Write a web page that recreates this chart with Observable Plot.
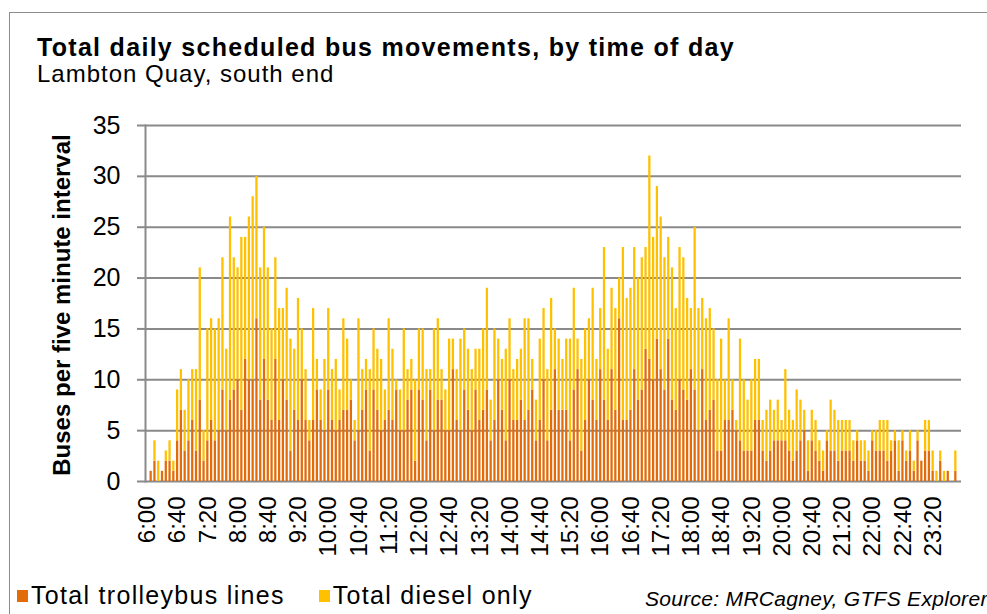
<!DOCTYPE html>
<html>
<head>
<meta charset="utf-8">
<script src="https://cdn.jsdelivr.net/npm/d3@7"></script>
<script src="https://cdn.jsdelivr.net/npm/@observablehq/plot@0.6"></script>
<style>
  html, body { margin: 0; padding: 0; background: #fff; }
  body { font-family: "Liberation Sans", Arial, sans-serif; color: #000; }
  #wrap { position: relative; width: 987px; height: 614px; overflow: hidden; background: #fff; }
  #frame { position: absolute; left: 9px; top: 12px; width: 1100px; height: 700px; border: 1.5px solid #8c8c8c; box-sizing: border-box; }
  #chart { position: absolute; left: 0; top: 0; }
  .title { position: absolute; left: 37px; top: 35px; font-size: 25px; line-height: 25px; font-weight: bold; letter-spacing: 1.3px; white-space: nowrap; }
  .subtitle { position: absolute; left: 37px; top: 62px; font-size: 24px; line-height: 24px; letter-spacing: 1px; white-space: nowrap; }
  .ytitle { position: absolute; left: 62px; top: 305px; font-size: 24px; line-height: 24px; font-weight: bold; white-space: nowrap; transform: translate(-50%, -50%) rotate(-90deg); }
  .legend { position: absolute; left: 17px; top: 583px; font-size: 25px; line-height: 25px; letter-spacing: 1.3px; white-space: nowrap; display: flex; align-items: center; }
  .legend .item { display: flex; align-items: center; margin-right: 34px; }
  .legend .sw { width: 11px; height: 12px; margin-right: 3px; display: inline-block; }
  .source { position: absolute; left: 645px; top: 588px; font-size: 21px; line-height: 21px; letter-spacing: 0.3px; font-style: italic; white-space: nowrap; }
</style>
</head>
<body>
<div id="wrap">
  <div id="frame"></div>
  <div id="chart"></div>
  <div class="title">Total daily scheduled bus movements, by time of day</div>
  <div class="subtitle">Lambton Quay, south end</div>
  <div class="ytitle">Buses per five minute interval</div>
  <div class="legend" id="legend"></div>
  <div class="source">Source: MRCagney, GTFS Explorer</div>
</div>
<script>
// Five-minute intervals, 6:00 to 23:55
const times = [
  "6:00","6:05","6:10","6:15","6:20","6:25","6:30","6:35","6:40","6:45","6:50","6:55",
  "7:00","7:05","7:10","7:15","7:20","7:25","7:30","7:35","7:40","7:45","7:50","7:55",
  "8:00","8:05","8:10","8:15","8:20","8:25","8:30","8:35","8:40","8:45","8:50","8:55",
  "9:00","9:05","9:10","9:15","9:20","9:25","9:30","9:35","9:40","9:45","9:50","9:55",
  "10:00","10:05","10:10","10:15","10:20","10:25","10:30","10:35","10:40","10:45","10:50","10:55",
  "11:00","11:05","11:10","11:15","11:20","11:25","11:30","11:35","11:40","11:45","11:50","11:55",
  "12:00","12:05","12:10","12:15","12:20","12:25","12:30","12:35","12:40","12:45","12:50","12:55",
  "13:00","13:05","13:10","13:15","13:20","13:25","13:30","13:35","13:40","13:45","13:50","13:55",
  "14:00","14:05","14:10","14:15","14:20","14:25","14:30","14:35","14:40","14:45","14:50","14:55",
  "15:00","15:05","15:10","15:15","15:20","15:25","15:30","15:35","15:40","15:45","15:50","15:55",
  "16:00","16:05","16:10","16:15","16:20","16:25","16:30","16:35","16:40","16:45","16:50","16:55",
  "17:00","17:05","17:10","17:15","17:20","17:25","17:30","17:35","17:40","17:45","17:50","17:55",
  "18:00","18:05","18:10","18:15","18:20","18:25","18:30","18:35","18:40","18:45","18:50","18:55",
  "19:00","19:05","19:10","19:15","19:20","19:25","19:30","19:35","19:40","19:45","19:50","19:55",
  "20:00","20:05","20:10","20:15","20:20","20:25","20:30","20:35","20:40","20:45","20:50","20:55",
  "21:00","21:05","21:10","21:15","21:20","21:25","21:30","21:35","21:40","21:45","21:50","21:55",
  "22:00","22:05","22:10","22:15","22:20","22:25","22:30","22:35","22:40","22:45","22:50","22:55",
  "23:00","23:05","23:10","23:15","23:20","23:25","23:30","23:35","23:40","23:45","23:50","23:55"
];

// Total trolleybus lines per interval (bottom segment)
const trolleybus = [
  0,1,2,0,1,2,2,1,4,7,3,4, 6,3,8,2,4,6,4,5,9,5,8,9,
  10,7,12,10,10,16,8,12,8,6,12,6, 10,8,3,7,6,10,6,4,6,9,6,5,
  9,6,5,6,7,7,8,4,5,7,9,3, 9,7,5,6,7,6,9,5,5,8,9,2,
  9,8,4,9,5,8,8,5,5,11,6,5, 9,7,5,9,6,7,9,4,6,10,7,4,
  10,6,6,8,6,7,9,4,6,10,4,7, 11,7,7,7,4,9,11,3,6,10,8,6,
  11,8,6,11,7,16,6,6,7,11,8,9, 13,12,10,14,11,9,14,8,7,10,9,8,
  11,9,5,11,6,7,8,3,3,6,6,7, 5,4,3,3,3,6,6,3,2,3,4,4,
  4,4,3,2,3,4,5,1,4,3,2,1, 4,3,3,2,3,3,3,2,4,2,2,1,
  4,3,3,3,2,3,4,1,4,2,3,1, 4,2,3,3,1,0,2,0,1,0,1,0
];

// Total diesel only per interval (top segment)
const diesel = [
  0,0,2,2,0,1,2,1,5,4,4,6, 5,8,13,3,11,10,11,11,13,8,18,13,
  11,17,12,16,18,14,13,13,13,9,10,11, 7,11,11,6,12,5,5,2,11,3,3,7,
  8,5,7,3,9,7,2,2,11,4,3,8, 6,6,7,3,9,7,1,4,10,3,3,8,
  6,7,7,2,10,8,3,4,9,3,5,9, 6,6,6,4,7,8,10,4,9,4,5,9,
  6,5,6,5,10,9,3,4,8,7,7,11, 4,7,5,7,10,10,3,9,9,6,11,6,
  6,15,7,8,10,4,17,12,12,12,12,13, 10,20,14,15,15,13,10,13,10,13,13,10,
  6,16,12,7,10,10,7,7,11,4,10,3, 1,10,7,5,7,6,6,3,5,5,3,4,
  2,7,4,4,6,4,2,3,3,3,2,2, 1,5,4,4,3,3,3,2,1,2,2,2,
  1,2,3,3,4,1,1,3,1,1,2,1, 1,0,3,3,2,1,1,1,0,0,2,0
];

const seriesNames = ["Total trolleybus lines", "Total diesel only"];
const seriesColors = ["#E36C0A", "#FFC000"];

// Axis tick labels (every 40 minutes) and value ticks
const xTickLabels = ["6:00","6:40","7:20","8:00","8:40","9:20","10:00","10:40","11:20","12:00","12:40","13:20","14:00","14:40","15:20","16:00","16:40","17:20","18:00","18:40","19:20","20:00","20:40","21:20","22:00","22:40","23:20"];
const yTicks = [0, 5, 10, 15, 20, 25, 30, 35];

const rows = [];
times.forEach((t, i) => {
  rows.push({time: t, series: seriesNames[0], value: trolleybus[i]});
});
times.forEach((t, i) => {
  rows.push({time: t, series: seriesNames[1], value: diesel[i]});
});

const gridColor = "#8a8a8a";

const chart = Plot.plot({
  width: 987,
  height: 614,
  marginLeft: 145,
  marginRight: 26,
  marginTop: 125,
  marginBottom: 133,
  style: {fontFamily: "'Liberation Sans', Arial, sans-serif", fontSize: "24px", color: "#000", background: "none", overflow: "visible"},
  x: {domain: times, paddingInner: 0.4, paddingOuter: 0.2, axis: null},
  y: {domain: [0, 35], axis: null},
  color: {domain: seriesNames, range: seriesColors},
  marks: [
    Plot.gridY(yTicks, {stroke: gridColor, strokeOpacity: 1, strokeWidth: 2}),
    Plot.barY(rows, {x: "time", y: "value", fill: "series", order: seriesNames}),
    Plot.frame({anchor: "left", stroke: gridColor, strokeWidth: 2}),
    Plot.axisY(yTicks, {tickSize: 8, tickPadding: 17, stroke: gridColor, strokeWidth: 2, fontSize: 25, label: null, fill: "#000"}),
    Plot.axisX(xTickLabels, {tickSize: 0, tickPadding: 15, tickRotate: -90, fontSize: 24, label: null, fill: "#000"})
  ]
});
document.getElementById("chart").appendChild(chart);

const legend = document.getElementById("legend");
seriesNames.forEach((name, i) => {
  const item = document.createElement("span");
  item.className = "item";
  const sw = document.createElement("span");
  sw.className = "sw";
  sw.style.background = seriesColors[i];
  item.appendChild(sw);
  item.appendChild(document.createTextNode(name));
  legend.appendChild(item);
});
</script>
</body>
</html>
